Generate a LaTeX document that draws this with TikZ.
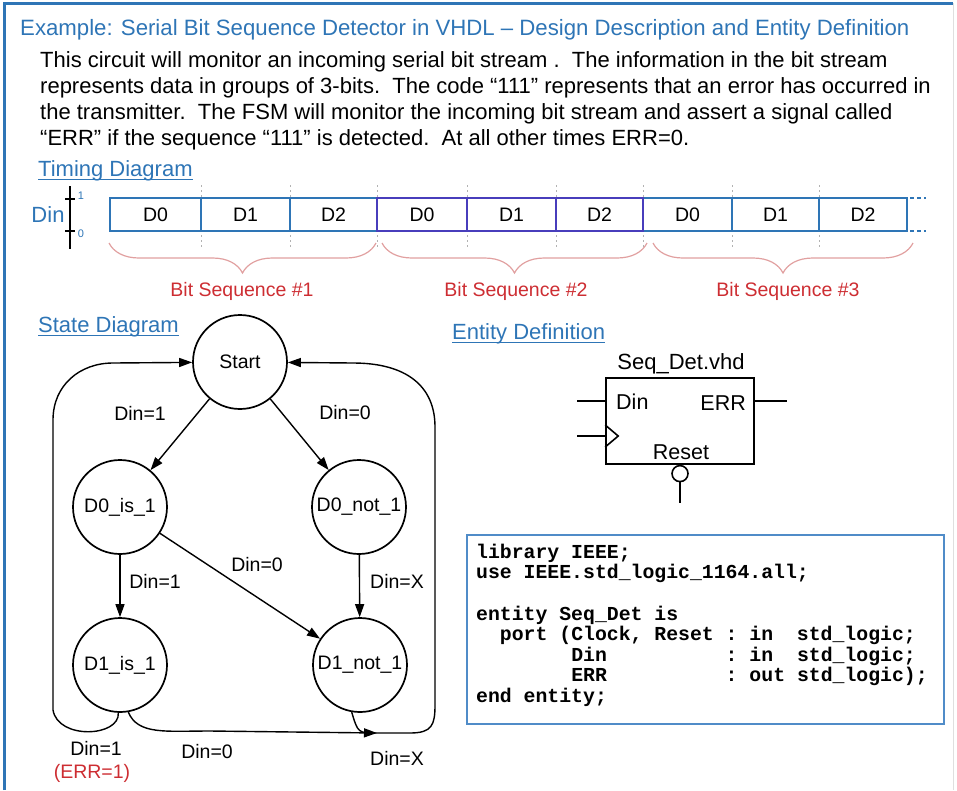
\documentclass[tikz,border=0pt]{standalone}
\usepackage{fontspec}
\setmainfont{Liberation Sans}
\setmonofont{Liberation Mono}
\usetikzlibrary{arrows.meta,decorations.pathreplacing}

\definecolor{slideblue}{RGB}{46,117,182}
\definecolor{seqpurple}{RGB}{72,62,188}
\definecolor{errred}{RGB}{205,45,50}
\definecolor{bracepink}{RGB}{225,160,160}
\definecolor{codeblue}{RGB}{80,140,200}

\newcommand\txtsize[1]{\fontsize{#1}{#1}\selectfont}

\begin{document}
\begin{tikzpicture}[x=1pt, y=-1pt, >={Triangle[length=13pt, width=9pt]},
    state/.style={circle, draw, line width=1.7pt, minimum size=94pt, inner sep=0pt, font=\txtsize{19.5}},
    lbl/.style={font=\txtsize{19.5}, inner sep=0pt},
    head/.style={text=slideblue, font=\txtsize{22}, inner sep=0pt, anchor=base west},
    trans/.style={->, line width=1.4pt},
    pin/.style={line width=1.6pt},
    code/.style={font=\ttfamily\bfseries\txtsize{19.8}, inner sep=0pt, anchor=base west}]
  \useasboundingbox (0,0) rectangle (957,790);

  % slide frame
  \draw[slideblue, line width=3pt] (4,790) -- (4,3) -- (953,3);
  \draw[gray!25, line width=1pt] (953,3) -- (953,790);

  % title and description
  \node[text=slideblue, font=\txtsize{22.2}, inner sep=0pt, anchor=base west] (title) at (20,35)
      {Example: Serial Bit Sequence Detector in VHDL – Design Description and Entity Definition};
  \foreach \y/\t [count=\i] in {67/{This circuit will monitor an incoming serial bit stream .\ \ The information in the bit stream},
      93/{represents data in groups of 3-bits.\ \ The code “111” represents that an error has occurred in},
      119/{the transmitter.\ \ The FSM will monitor the incoming bit stream and assert a signal called},
      145/{“ERR” if the sequence “111” is detected.\ \ At all other times ERR=0.}}
    \node[font=\txtsize{22}, inner sep=0pt, anchor=base west] (desc\i) at (40,\y) {\t};

  % timing diagram
  \node[head] (timhead) at (38,176) {Timing Diagram};
  \draw[slideblue, line width=1pt] ([yshift=-3pt]timhead.base west) -- ([yshift=-3pt]timhead.base east);

  \node[text=slideblue, font=\txtsize{22}, inner sep=0pt, anchor=base] (din) at (48,222) {Din};
  \draw[line width=2.5pt] (70,186) -- (70,249);
  \draw[line width=1.5pt] (65,199) -- (75,199) (65,231) -- (75,231);
  \node[text=slideblue, font=\txtsize{11}, inner sep=0pt] (hi) at (81,196) {1};
  \node[text=slideblue, font=\txtsize{11}, inner sep=0pt] (lo) at (81,234) {0};

  \foreach \x in {201,290,377,467,556,643,732,819}
    \draw[gray!60, line width=0.8pt, dash pattern=on 2pt off 3pt] (\x,185) -- (\x,247);
  \foreach \xa/\xb/\col in {110/377/slideblue, 643/907/slideblue, 377/643/seqpurple}
    \draw[\col, line width=2pt] (\xa,198) rectangle (\xb,231);
  \foreach \x/\col in {201/slideblue, 290/slideblue, 467/seqpurple, 556/seqpurple, 732/slideblue, 819/slideblue}
    \draw[\col, line width=2pt] (\x,198) -- (\x,231);
  \draw[slideblue, line width=2pt, dash pattern=on 4pt off 3pt] (910,198) -- (926,198) (910,231) -- (926,231);
  \foreach \x/\t [count=\i] in {155.5/D0, 245.5/D1, 333.5/D2, 422/D0, 511.5/D1, 599.5/D2, 687.5/D0, 775.5/D1, 863/D2}
    \node[lbl] (bit\i) at (\x,215) {\t};

  \foreach \xa/\xb/\xm/\n in {376/109/242/1, 647/382/516/2, 913/653/788/3} {
    \draw[bracepink, line width=1.2pt, decorate, decoration={brace, amplitude=30pt}] (\xa,243) -- (\xb,243);
    \node[lbl, text=errred, anchor=base] (seq\n) at (\xm,296) {Bit Sequence \#\n};
  }

  % state diagram
  \node[head] (sthead) at (38,332) {State Diagram};
  \draw[slideblue, line width=1pt] ([yshift=-3pt]sthead.base west) -- ([yshift=-3pt]sthead.base east);

  \node[state] (start) at (240,362) {Start};
  \node[state] (d0is)  at (120,507) {D0\_is\_1};
  \node[state] (d0not) at (359,507) {D0\_not\_1};
  \node[state] (d1is)  at (120,665) {D1\_is\_1};
  \node[state] (d1not) at (360,665) {D1\_not\_1};

  \draw[trans] (start) -- (d0is);
  \draw[trans] (start) -- (d0not);
  \draw[trans] (d0is) -- (d1is);
  \draw[trans] (d0is) -- (d1not);
  \draw[trans] (d0not) -- (d1not);

  \coordinate (join) at (377,733);
  \draw[trans] (d1is.-92) .. controls (120,737) and (58,740) .. (53,710) -- (53,420)
      .. controls (53,385) and (80,363) .. (113,363) -- (start);
  \draw[trans] (d1not.-100) .. controls (358,733) .. (join) -- (410,733)
      .. controls (432,733) and (435,725) .. (435,705) -- (435,427)
      .. controls (435,385) and (405,363) .. (353,363) -- (start);
  \draw[trans] (d1is.-80) .. controls (138,735) and (165,731) .. (210,731) -- (join);

  \node[lbl] (e1) at (140,413) {Din=1};
  \node[lbl] (e2) at (345,413) {Din=0};
  \node[lbl] (e3) at (155,581) {Din=1};
  \node[lbl] (e4) at (257,565) {Din=0};
  \node[lbl] (e5) at (397,581) {Din=X};
  \node[lbl] (e6) at (96,748) {Din=1};
  \node[lbl, text=errred] (e7) at (92,773) {(ERR=1)};
  \node[lbl] (e8) at (207,752) {Din=0};
  \node[lbl] (e9) at (397,758) {Din=X};

  % entity definition
  \node[head] (enthead) at (452,339) {Entity Definition};
  \draw[slideblue, line width=1pt] ([yshift=-3pt]enthead.base west) -- ([yshift=-3pt]enthead.base east);

  \node[draw, line width=1.6pt, minimum width=148pt, minimum height=86pt, inner sep=0pt] (ent) at (680,421) {};
  \node[font=\txtsize{22}, inner sep=0pt, anchor=base] (entname) at (681,369) {Seq\_Det.vhd};
  \node[font=\txtsize{21.5}, inner sep=0pt, anchor=base west] (pdin) at (616,409) {Din};
  \node[font=\txtsize{21.5}, inner sep=0pt, anchor=base east] (perr) at (746,410) {ERR};
  \node[font=\txtsize{21.5}, inner sep=0pt, anchor=base] (prst) at (681,459) {Reset};
  \draw[pin] ([yshift=20pt]ent.west) -- ++(-28,0);
  \draw[pin] ([yshift=20pt]ent.east) -- ++(32,0);
  \draw[pin] ([yshift=-15pt]ent.west) -- ++(-28,0);
  \draw[pin] ([yshift=-4pt]ent.west) -- ++(13,11) -- ([yshift=-26pt]ent.west);
  \node[circle, draw, line width=1.6pt, minimum size=16pt, inner sep=0pt, anchor=north] (rstb) at (ent.south) {};
  \draw[pin] (rstb.south) -- ++(0,21);

  % VHDL code
  \node[draw=codeblue, line width=2pt, minimum width=477pt, minimum height=189pt, inner sep=0pt] (codebox) at (705.5,629.5) {};
  \foreach \y/\t [count=\i] in {558/{library IEEE;},
      578.6/{use IEEE.std\_logic\_1164.all;},
      620/{entity Seq\_Det is},
      640.6/{~~port (Clock, Reset : in~~std\_logic;},
      661.2/{~~~~~~~~Din~~~~~~~~~~: in~~std\_logic;},
      681.8/{~~~~~~~~ERR~~~~~~~~~~: out std\_logic);},
      702.4/{end entity;}}
    \node[code] (code\i) at (476,\y) {\t};
\end{tikzpicture}
\end{document}
